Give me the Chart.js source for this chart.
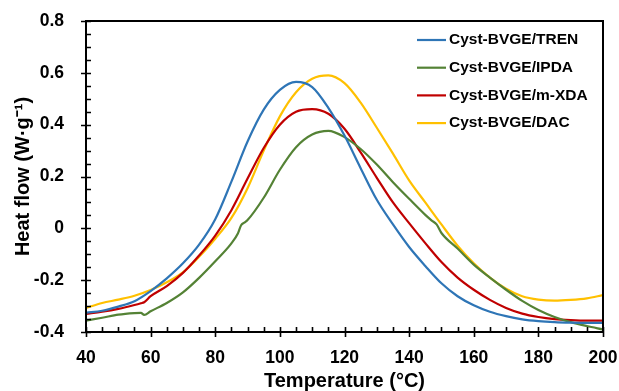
<!DOCTYPE html>
<html>
<head>
<meta charset="utf-8">
<script src="https://cdn.jsdelivr.net/npm/chart.js@4"></script>
<style>
  html, body { margin: 0; padding: 0; background: #ffffff; }
  #wrap { width: 619px; height: 391px; position: relative; }
</style>
</head>
<body>
<div id="wrap"><canvas id="dsc"></canvas></div>
<script>
// DSC curves, values
var seriesLabels = ['Cyst-BVGE/TREN', 'Cyst-BVGE/IPDA', 'Cyst-BVGE/m-XDA', 'Cyst-BVGE/DAC'];
var seriesColors = ['#2E75B6', '#548235', '#C00000', '#FFC000'];

var tempTren = [40, 45, 50, 55, 60, 65, 70, 75, 80, 85, 90, 95, 100, 105, 110, 115, 120, 125, 130, 135,
                140, 145, 150, 155, 160, 165, 170, 175, 180, 185, 190, 195, 200];
var flowTren = [-0.326, -0.318, -0.302, -0.281, -0.242, -0.193, -0.135, -0.063, 0.035, 0.180, 0.335, 0.458,
                0.534, 0.565, 0.545, 0.465, 0.358, 0.232, 0.110, 0.015, -0.072, -0.145, -0.212, -0.262,
                -0.297, -0.322, -0.339, -0.351, -0.358, -0.362, -0.364, -0.365, -0.365];

var tempIpda = [40, 45, 50, 55, 57, 58, 60, 65, 70, 75, 80, 85, 87, 88, 89, 90, 95, 100, 105, 110, 115,
                120, 125, 130, 135, 140, 145, 147, 148.5, 150, 155, 160, 165, 170, 175, 180, 185, 190, 195, 200];
var flowIpda = [-0.356, -0.345, -0.333, -0.327, -0.326, -0.334, -0.320, -0.288, -0.247, -0.191, -0.127,
                -0.058, -0.020, 0.012, 0.022, 0.032, 0.118, 0.226, 0.313, 0.362, 0.376, 0.352, 0.306, 0.246,
                0.178, 0.114, 0.052, 0.030, 0.015, -0.018, -0.078, -0.140, -0.190, -0.237, -0.280, -0.315,
                -0.342, -0.362, -0.377, -0.390];

var tempMxda = [40, 45, 50, 55, 57, 58, 60, 65, 70, 75, 80, 85, 90, 95, 100, 105, 110, 115, 120, 125, 130,
                135, 140, 145, 150, 155, 160, 165, 170, 175, 180, 185, 190, 195, 200];
var flowMxda = [-0.330, -0.322, -0.311, -0.296, -0.289, -0.285, -0.262, -0.223, -0.172, -0.105, -0.028,
                0.070, 0.192, 0.310, 0.400, 0.450, 0.460, 0.442, 0.384, 0.293, 0.195, 0.100, 0.020, -0.057,
                -0.130, -0.190, -0.237, -0.276, -0.307, -0.329, -0.342, -0.350, -0.354, -0.356, -0.356];

var tempDac = [40, 45, 50, 55, 60, 65, 70, 75, 80, 85, 90, 95, 100, 105, 110, 115, 120, 125, 130, 135,
               140, 145, 150, 155, 160, 165, 170, 175, 180, 185, 190, 195, 200];
var flowDac = [-0.307, -0.288, -0.275, -0.260, -0.238, -0.208, -0.170, -0.110, -0.040, 0.040, 0.155, 0.300,
               0.432, 0.525, 0.577, 0.590, 0.560, 0.485, 0.388, 0.288, 0.185, 0.100, 0.015, -0.067, -0.135,
               -0.190, -0.233, -0.262, -0.275, -0.279, -0.276, -0.270, -0.258];

var FONT = '"Liberation Sans", Arial, Helvetica, sans-serif';

function _points(xs, ys) {
    return xs.map(function(x, i) { return { x: x, y: ys[i] }; });
}

// Minor ticks point inward, major ticks cross the axis; full black box round the plot
var frameTicks = {
    id: 'frameTicks',
    afterDraw: function(chart) {
        var ctx = chart.ctx;
        var a = chart.chartArea;
        var xs = chart.scales.x, ys = chart.scales.y;
        ctx.save();
        ctx.strokeStyle = '#000';
        ctx.lineWidth = 1.6;
        ctx.beginPath();
        var i, p;
        for (i = 0; i <= 24; i++) {
            p = Math.round(ys.getPixelForValue(-0.4 + i * 0.05)) + 0.5;
            ctx.moveTo(i % 4 === 0 ? a.left - 5 : a.left, p);
            ctx.lineTo(a.left + 5, p);
        }
        for (i = 0; i <= 32; i++) {
            p = Math.round(xs.getPixelForValue(40 + i * 5)) + 0.5;
            ctx.moveTo(p, i % 4 === 0 ? a.bottom + 5 : a.bottom);
            ctx.lineTo(p, a.bottom - 5);
        }
        ctx.stroke();
        ctx.lineWidth = 2;
        ctx.strokeRect(a.left, a.top, a.right - a.left, a.bottom - a.top);
        ctx.restore();
    }
};

// Legend drawn inside the plot, top right
var insideLegend = {
    id: 'insideLegend',
    afterDraw: function(chart) {
        var ctx = chart.ctx;
        var a = chart.chartArea;
        var x0 = a.right - 186, y0 = a.top + 19;
        ctx.save();
        ctx.font = 'bold 15.5px ' + FONT;
        ctx.textAlign = 'left';
        ctx.textBaseline = 'middle';
        chart.data.datasets.forEach(function(ds, i) {
            var y = y0 + i * 27.7;
            ctx.strokeStyle = ds.borderColor;
            ctx.lineWidth = 2.2;
            ctx.beginPath();
            ctx.moveTo(x0, y);
            ctx.lineTo(x0 + 29, y);
            ctx.stroke();
            ctx.fillStyle = '#000';
            ctx.fillText(ds.label, x0 + 32, y);
        });
        ctx.restore();
    }
};

var datasets = [
    { label: seriesLabels[0], data: _points(tempTren, flowTren), borderColor: seriesColors[0] },
    { label: seriesLabels[1], data: _points(tempIpda, flowIpda), borderColor: seriesColors[1] },
    { label: seriesLabels[2], data: _points(tempMxda, flowMxda), borderColor: seriesColors[2] },
    { label: seriesLabels[3], data: _points(tempDac, flowDac), borderColor: seriesColors[3] }
].map(function(d) {
    d.borderWidth = 2.2;
    d.pointRadius = 0;
    d.fill = false;
    d.cubicInterpolationMode = 'monotone';
    return d;
});

new Chart(document.getElementById('dsc'), {
    type: 'line',
    data: { datasets: datasets },
    options: {
        responsive: true,
        maintainAspectRatio: false,
        animation: false,
        layout: { padding: { top: 21, right: 16, left: 0, bottom: 0 } },
        plugins: {
            legend: { display: false },
            tooltip: { enabled: false }
        },
        scales: {
            x: {
                type: 'linear',
                min: 40,
                max: 200,
                grid: { display: false },
                border: { display: true, color: '#000', width: 2 },
                ticks: {
                    stepSize: 20,
                    padding: 8,
                    color: '#000',
                    maxRotation: 0,
                    font: { family: FONT, size: 17.5, weight: 'bold' }
                },
                title: {
                    display: true,
                    text: 'Temperature (°C)',
                    color: '#000',
                    padding: { top: 0, bottom: 0 },
                    font: { family: FONT, size: 20, weight: 'bold', lineHeight: 1 }
                },
                afterFit: function(scale) {
                    scale.height = 59;
                    scale.paddingLeft = 0;
                    scale.paddingRight = 0;
                }
            },
            y: {
                min: -0.4,
                max: 0.8,
                grid: { display: false },
                border: { display: true, color: '#000', width: 2 },
                ticks: {
                    stepSize: 0.2,
                    padding: 14,
                    color: '#000',
                    font: { family: FONT, size: 17.5, weight: 'bold' },
                    callback: function(v) { return String(parseFloat(v.toFixed(1))); }
                },
                title: {
                    display: true,
                    text: 'Heat flow (W·g⁻¹)',
                    color: '#000',
                    padding: { top: 11, bottom: 0 },
                    font: { family: FONT, size: 20, weight: 'bold' }
                },
                afterFit: function(scale) {
                    scale.width = 86;
                    scale.paddingTop = 0;
                    scale.paddingBottom = 0;
                }
            }
        }
    },
    plugins: [frameTicks, insideLegend]
});
</script>
</body>
</html>
